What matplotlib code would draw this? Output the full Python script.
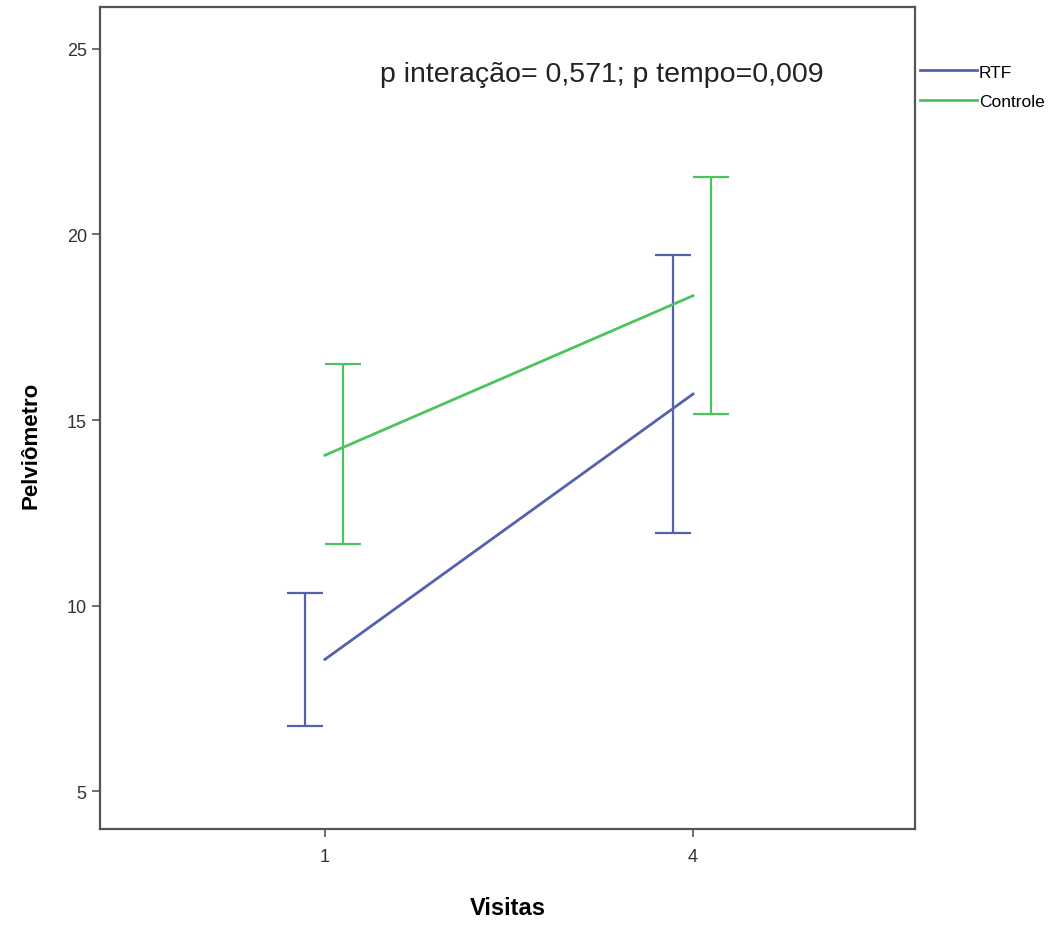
import numpy as np
import matplotlib.pyplot as plt

plt.rcParams['font.family'] = ['Liberation Sans', 'DejaVu Sans']

visitas = ['1', '4']
grupos = ['RTF', 'Controle']

# means and 95% CI
rtf_media = [8.55, 15.70]
rtf_inf = [6.75, 11.95]
rtf_sup = [10.35, 19.45]

ctrl_media = [14.05, 18.35]
ctrl_inf = [11.65, 15.15]
ctrl_sup = [16.50, 21.55]

cores = {'RTF': '#5661ad', 'Controle': '#4cc45e'}

fig = plt.figure(figsize=(10.59, 9.28), dpi=100)
ax = fig.add_axes([0.0944, 0.1056, 0.7696, 0.8858])

x = np.arange(len(visitas))
desloc = {'RTF': -0.054, 'Controle': 0.05}

series = {'RTF': (rtf_media, rtf_inf, rtf_sup),
          'Controle': (ctrl_media, ctrl_inf, ctrl_sup)}

for g in grupos:
    media, inf, sup = (np.array(v) for v in series[g])
    ax.plot(x, media, color=cores[g], lw=2, label=g)
    ax.errorbar(x + desloc[g], media, yerr=[media - inf, sup - media],
                fmt='none', ecolor=cores[g], elinewidth=1.6, capsize=13,
                capthick=1.6)

ax.set_xlim(-0.611, 1.603)
ax.set_ylim(3.98, 26.13)
ax.set_xticks(x)
ax.set_xticklabels(visitas)
ax.set_yticks([5, 10, 15, 20, 25])

for s in ax.spines.values():
    s.set_color('#555555')
    s.set_linewidth(1.6)
ax.tick_params(direction='out', length=6, width=1.2, color='#555555',
               labelsize=13, labelcolor='#333333')
ax.tick_params(axis='x', pad=8)

ax.set_xlabel('Visitas', fontsize=17, fontweight='bold', labelpad=22)
ax.set_ylabel('Pelviômetro', fontsize=16, fontweight='bold')
ax.yaxis.set_label_coords(-0.072, 0.468)

ax.text(0.344, 0.919, 'p interação= 0,571; p tempo=0,009', transform=ax.transAxes,
        fontsize=20.5, color='#222222', va='center', ha='left')

fig.legend(loc='upper left', bbox_to_anchor=(0.862, 0.937), frameon=False,
           fontsize=12.5, handlelength=3.3, handletextpad=0.1, labelspacing=0.8,
           borderaxespad=0)

fig.savefig('out.png', dpi=100)
